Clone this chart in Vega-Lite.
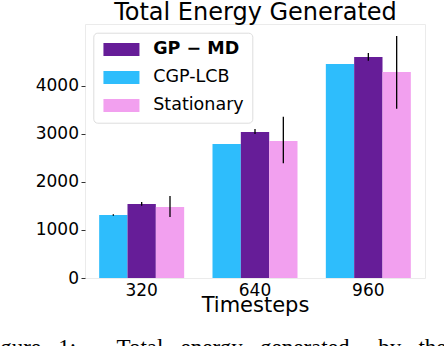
{
  "$schema": "https://vega.github.io/schema/vega-lite/v6.json",
  "width": 340,
  "height": 254,
  "autosize": {"type": "none"},
  "padding": {"left": 85, "top": 24, "right": 19, "bottom": 68},
  "background": "white",
  "config": {"view": {"stroke": "#ebebeb", "strokeWidth": 1}, "font": "DejaVu Sans"},
  "title": {
    "text": "Figure\u00a0\u00a0\u00a01:\u00a0\u00a0\u00a0\u00a0\u00a0\u00a0\u00a0Total\u00a0\u00a0\u00a0energy\u00a0\u00a0\u00a0generated\u00a0\u00a0\u00a0\u00a0\u00a0by\u00a0\u00a0\u00a0the",
    "orient": "bottom",
    "anchor": "start",
    "frame": "group",
    "dx": -104,
    "offset": 22,
    "font": "Liberation Serif",
    "fontSize": 23,
    "fontWeight": "normal",
    "color": "black"
  },
  "data": {
    "values": [
      {"t": "320", "m": "CGP-LCB", "mean": 1311, "lo": 1296, "hi": 1326},
      {"t": "320", "m": "GP − MD", "mean": 1540, "lo": 1504, "hi": 1581},
      {"t": "320", "m": "Stationary", "mean": 1477, "lo": 1269, "hi": 1706},
      {"t": "640", "m": "CGP-LCB", "mean": 2788, "lo": 2788, "hi": 2788},
      {"t": "640", "m": "GP − MD", "mean": 3038, "lo": 2996, "hi": 3101},
      {"t": "640", "m": "Stationary", "mean": 2851, "lo": 2387, "hi": 3356},
      {"t": "960", "m": "CGP-LCB", "mean": 4453, "lo": 4453, "hi": 4453},
      {"t": "960", "m": "GP − MD", "mean": 4598, "lo": 4522, "hi": 4682},
      {"t": "960", "m": "Stationary", "mean": 4286, "lo": 3523, "hi": 5035}
    ]
  },
  "layer": [
    {
      "mark": {"type": "bar"},
      "encoding": {
        "x": {
          "field": "t", "type": "nominal",
          "scale": {"paddingInner": 0.25, "paddingOuter": 0.125},
          "axis": {
            "title": "Timesteps", "labelAngle": 0, "ticks": false, "tickSize": 0, "domain": false, "grid": false,
            "labelFontSize": 17, "labelPadding": 4.3, "labelColor": "black", "labelFont": "DejaVu Sans",
            "titleFontSize": 21, "titleFontWeight": "normal", "titlePadding": -4, "titleColor": "black", "titleFont": "DejaVu Sans"
          }
        },
        "xOffset": {
          "field": "m", "type": "nominal",
          "scale": {"domain": ["CGP-LCB", "GP − MD", "Stationary"], "paddingInner": 0, "paddingOuter": 0}
        },
        "y": {
          "field": "mean", "type": "quantitative",
          "scale": {"domain": [0, 5285], "nice": false, "zero": true},
          "axis": {
            "title": null, "values": [0, 1000, 2000, 3000, 4000], "format": "d", "grid": false, "domain": false,
            "tickColor": "#333333", "tickSize": 4, "tickWidth": 1,
            "labelFontSize": 17, "labelColor": "black", "labelPadding": 2.5, "labelFont": "DejaVu Sans"
          }
        },
        "color": {
          "field": "m", "type": "nominal",
          "scale": {"domain": ["GP − MD", "CGP-LCB", "Stationary"], "range": ["#661D98", "#2EBDFC", "#F2A0EF"]},
          "legend": {
            "title": null, "orient": "none", "legendX": 8.3, "legendY": 8.7,
            "symbolType": "M-2.77,-1H2.77V1H-2.77Z", "symbolSize": 169, "symbolStrokeWidth": 0,
            "symbolOffset": 11.4, "labelOffset": 23, "labelFontSize": 17.5, "labelFont": "DejaVu Sans",
            "labelColor": "black", "labelLimit": 300, "rowPadding": 9, "padding": 8,
            "strokeColor": "#dddddd", "cornerRadius": 4, "fillColor": "white",
            "encode": {
              "labels": {"update": {"fontWeight": {"signal": "datum.label == 'GP − MD' ? 'bold' : 'normal'"}}}
            }
          }
        }
      }
    },
    {
      "mark": {"type": "rule", "color": "black", "strokeWidth": 1.3},
      "encoding": {
        "x": {
          "field": "t", "type": "nominal",
          "scale": {"paddingInner": 0.25, "paddingOuter": 0.125},
          "axis": {
            "orient": "top", "title": "Total Energy Generated", "labels": false, "ticks": false, "domain": false, "grid": false,
            "titleFontSize": 24, "titleFont": "DejaVu Sans", "titleFontWeight": "normal", "titleColor": "black", "titlePadding": 0
          }
        },
        "xOffset": {
          "field": "m", "type": "nominal",
          "scale": {"domain": ["CGP-LCB", "GP − MD", "Stationary"], "paddingInner": 0, "paddingOuter": 0}
        },
        "y": {
          "field": "lo", "type": "quantitative",
          "scale": {"domain": [0, 5285], "nice": false, "zero": true},
          "axis": {
            "title": null, "values": [0, 1000, 2000, 3000, 4000], "format": "d", "grid": false, "domain": false,
            "tickColor": "#333333", "tickSize": 4, "tickWidth": 1,
            "labelFontSize": 17, "labelColor": "black", "labelPadding": 2.5, "labelFont": "DejaVu Sans"
          }
        },
        "y2": {"field": "hi"}
      }
    }
  ],
  "resolve": {"axis": {"x": "independent"}}
}
